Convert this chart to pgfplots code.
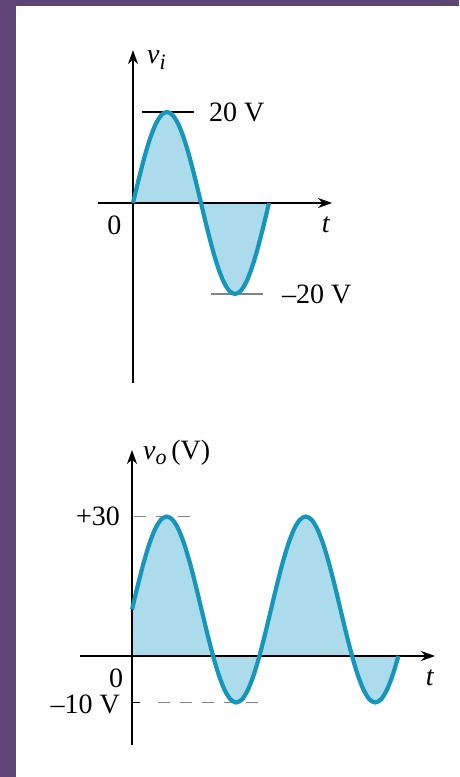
\documentclass[border=0pt]{standalone}
\usepackage{fontspec}
\setmainfont{Liberation Serif}
\usepackage{pgfplots}
\usepackage{pgfplotstable}
\pgfplotsset{compat=1.18}
\usetikzlibrary{arrows.meta}
\definecolor{bgpurple}{RGB}{94,69,117}
\definecolor{curve}{RGB}{22,150,186}
\definecolor{fillb}{RGB}{172,220,236}
\definecolor{refgray}{RGB}{130,130,130}
\newcommand\lbl{\fontsize{28}{30}\selectfont}

\pgfplotstableread{
t v
0 0
15 5.176
30 10
45 14.142
60 17.321
75 19.319
90 20
105 19.319
120 17.321
135 14.142
150 10
165 5.176
180 0
195 -5.176
210 -10
225 -14.142
240 -17.321
255 -19.319
270 -20
285 -19.319
300 -17.321
315 -14.142
330 -10
345 -5.176
360 0
}\vitable

\pgfplotstableread{
t v
0 10
15 15.176
30 20
45 24.142
60 27.321
75 29.319
90 30
105 29.319
120 27.321
135 24.142
150 20
165 15.176
180 10
195 4.824
210 0
225 -4.142
240 -7.321
255 -9.319
270 -10
285 -9.319
300 -7.321
315 -4.142
330 0
345 4.824
360 10
375 15.176
390 20
405 24.142
420 27.321
435 29.319
450 30
465 29.319
480 27.321
495 24.142
510 20
525 15.176
540 10
555 4.824
570 0
585 -4.142
600 -7.321
615 -9.319
630 -10
645 -9.319
660 -7.321
675 -4.142
690 0
}\votable

\begin{document}
\begin{tikzpicture}[x=1pt,y=1pt]
\useasboundingbox (0,0) rectangle (459,777);
\fill[bgpurple] (0,0) rectangle (459,777);
\fill[white] (16,0) rectangle (459,771);

% ---------- top: v_i ----------
\begin{axis}[at={(133pt,574pt)}, anchor=origin, disabledatascaling,
  x=0.37778pt, y=4.55pt,
  xmin=-92.6, xmax=526.8, ymin=-39.6, ymax=33.6,
  axis lines=middle, xtick=\empty, ytick=\empty, clip=false,
  axis line style={line width=1.8pt, -{Stealth[length=14pt,width=10pt]}}]
\addplot[fill=fillb, draw=none] table[x=t,y=v]{\vitable} \closedcycle;
\addplot[black, line width=1.8pt] coordinates {(0,0) (360,0)};
\addplot[black, line width=1.4pt] coordinates {(23.8,20) (161.5,20)};
\addplot[refgray, line width=1.4pt] coordinates {(206.5,-20) (344,-20)};
\addplot[curve, line width=4.2pt, smooth] table[x=t,y=v]{\vitable};
\node[anchor=west, font=\lbl, inner sep=0pt] at (axis cs:201,20) {20 V};
\node[anchor=west, font=\lbl, inner sep=0pt] at (axis cs:394,-20) {–20 V};
\node[font=\lbl, inner sep=0pt] at (axis cs:-49,-4.95) {0};
\node[font=\lbl, inner sep=0pt] at (axis cs:511,-4.8) {\textit{t}};
\node[anchor=west, font=\lbl, inner sep=0pt] at (axis cs:37,31.4) {\textit{v}\raisebox{-0.4ex}{\fontsize{22}{22}\selectfont\textit{i}}};
\end{axis}

% ---------- bottom: v_o ----------
\begin{axis}[at={(132pt,121pt)}, anchor=origin, disabledatascaling,
  x=0.3861pt, y=4.65pt,
  xmin=-134.7, xmax=784.8, ymin=-19.1, ymax=44.3,
  axis lines=middle, xtick=\empty, ytick=\empty, clip=false,
  axis line style={line width=1.8pt, -{Stealth[length=14pt,width=10pt]}}]
\addplot[fill=fillb, draw=none] table[x=t,y=v]{\votable} \closedcycle;
\addplot[black, line width=1.8pt] coordinates {(0,0) (690,0)};
\addplot[black, line width=1.8pt] coordinates {(0,0) (0,10)};
\addplot[refgray, line width=1.3pt, dash pattern=on 12pt off 10pt] coordinates {(6,30) (158,30)};
\addplot[refgray, line width=1.3pt, dash pattern=on 12pt off 10pt] coordinates {(67,-10) (326,-10)};
\addplot[black, line width=1.8pt] coordinates {(0,-10) (21,-10)};
\addplot[curve, line width=4.2pt, smooth] table[x=t,y=v]{\votable};
\node[anchor=east, font=\lbl, inner sep=0pt] at (axis cs:-31,30) {+30};
\node[font=\lbl, inner sep=0pt] at (axis cs:-41.4,-4.7) {0};
\node[anchor=east, font=\lbl, inner sep=0pt] at (axis cs:-31,-10.5) {–10 V};
\node[font=\lbl, inner sep=0pt] at (axis cs:772,-4.7) {\textit{t}};
\node[anchor=west, font=\lbl, inner sep=0pt] at (axis cs:28.5,43.7) {\textit{v}\raisebox{-0.4ex}{\fontsize{22}{22}\selectfont\textit{o}}\,(V)};
\end{axis}
\end{tikzpicture}
\end{document}
